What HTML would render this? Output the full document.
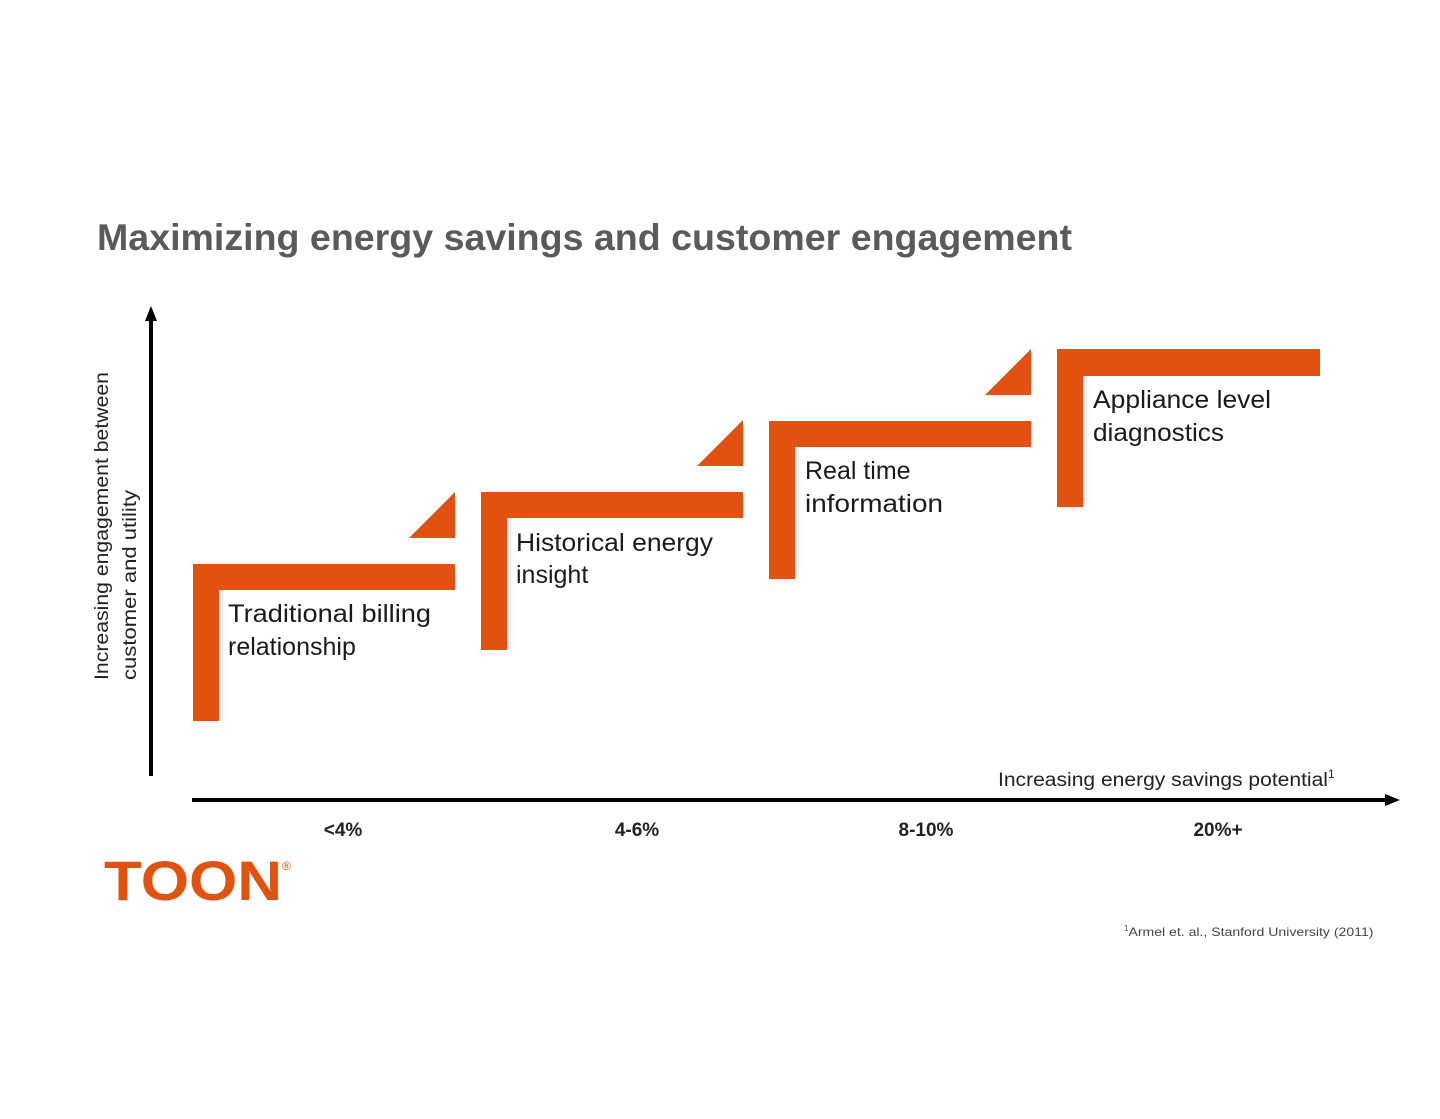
<!DOCTYPE html>
<html><head><style>
body{margin:0;background:#fff;}
svg text{font-family:"Liberation Sans",sans-serif;}
</style></head><body>
<svg width="1440" height="1114" viewBox="0 0 1440 1114" xmlns="http://www.w3.org/2000/svg">
<text x="97" y="250" font-size="37" font-weight="bold" fill="#5a5a5a" textLength="975" lengthAdjust="spacingAndGlyphs">Maximizing energy savings and customer engagement</text>
<g fill="#e2520f">
<rect x="193" y="564" width="26" height="157"/><rect x="193" y="564" width="262" height="26"/><polygon points="409,538 455,538 455,492"/>
<rect x="481" y="492" width="26" height="158"/><rect x="481" y="492" width="262" height="26"/><polygon points="697,466 743,466 743,420"/>
<rect x="769" y="421" width="26" height="158"/><rect x="769" y="421" width="262" height="26"/><polygon points="985,395 1031,395 1031,349"/>
<rect x="1057" y="349" width="26" height="158"/><rect x="1057" y="349" width="263" height="27"/>
</g>
<g font-size="25" fill="#1a1a1a">
<text x="228" y="622" textLength="203" lengthAdjust="spacingAndGlyphs">Traditional billing</text><text x="228" y="655">relationship</text>
<text x="516" y="551" textLength="197" lengthAdjust="spacingAndGlyphs">Historical energy</text><text x="516" y="583">insight</text>
<text x="805" y="479">Real time</text><text x="805" y="512" textLength="138" lengthAdjust="spacingAndGlyphs">information</text>
<text x="1093" y="408" textLength="178" lengthAdjust="spacingAndGlyphs">Appliance level</text><text x="1093" y="441" textLength="131" lengthAdjust="spacingAndGlyphs">diagnostics</text>
</g>
<line x1="151" y1="776" x2="151" y2="318" stroke="#000" stroke-width="4"/>
<polygon points="151,306 145,321 157,321" fill="#000"/>
<line x1="192" y1="800" x2="1388" y2="800" stroke="#000" stroke-width="4"/>
<polygon points="1400,800 1385,794 1385,806" fill="#000"/>
<g font-size="19" fill="#222">
<text transform="translate(108,680) rotate(-90)" textLength="308" lengthAdjust="spacingAndGlyphs">Increasing engagement between</text>
<text transform="translate(136,680) rotate(-90)" textLength="190" lengthAdjust="spacingAndGlyphs">customer and utility</text>
<text x="998" y="786"><tspan textLength="330" lengthAdjust="spacingAndGlyphs">Increasing energy savings potential</tspan><tspan font-size="12" dy="-8">1</tspan></text>
</g>
<g font-size="19" font-weight="bold" fill="#222" text-anchor="middle">
<text x="343" y="836">&lt;4%</text><text x="637" y="836">4-6%</text><text x="926" y="836">8-10%</text><text x="1218" y="836">20%+</text>
</g>
<text x="104" y="900" font-size="56" font-weight="bold" fill="#e2520f" textLength="178" lengthAdjust="spacingAndGlyphs">TOON</text>
<text x="282" y="870" font-size="12" fill="#e2520f">®</text>
<text x="1124" y="936" font-size="12" fill="#444"><tspan font-size="8" dy="-5">1</tspan><tspan dy="5" textLength="245" lengthAdjust="spacingAndGlyphs">Armel et. al., Stanford University (2011)</tspan></text>
</svg>
</body></html>
